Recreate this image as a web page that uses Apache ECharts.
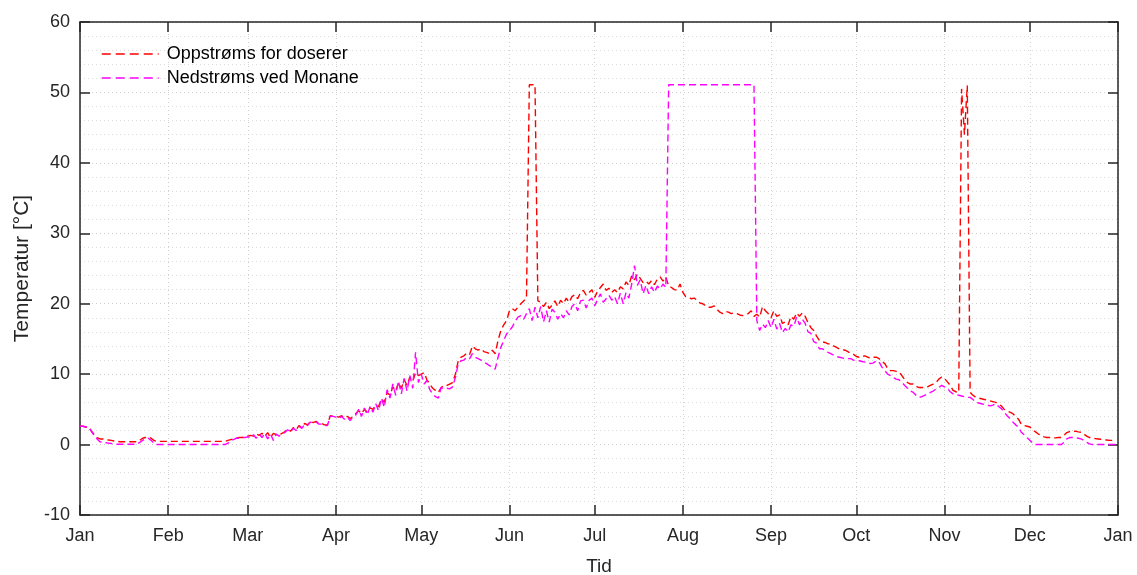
<!DOCTYPE html>
<html><head><meta charset="utf-8">
<script src="https://cdn.jsdelivr.net/npm/echarts@6/dist/echarts.min.js"></script>
<style>html,body{margin:0;padding:0;background:#fff}#c{width:1137px;height:575px}</style>
</head><body><div id="c"></div>
<script>
// Daily values starting 2021-01-01 (index 0), one value per day
const monthLabels = ['Jan','Feb','Mar','Apr','May','Jun','Jul','Aug','Sep','Oct','Nov','Dec'];
const seriesNames = ['Oppstrøms for doserer', 'Nedstrøms ved Monane'];
const yTicks = { min: -10, max: 60, step: 10 };

const upstream = [
  // Jan
  2.6,2.6,2.5,2.5,1.9,1.4,1.0,0.8,0.8,0.7,0.65,0.6,0.5,0.45,0.4,0.4,0.4,0.4,0.4,0.4,0.4,0.6,0.9,1.0,1.1,0.9,0.6,0.45,0.45,0.45,0.45,
  // Feb
  0.45,0.45,0.45,0.45,0.45,0.45,0.45,0.45,0.45,0.45,0.45,0.45,0.45,0.45,0.45,0.45,0.45,0.45,0.45,0.45,0.45,0.6,0.7,0.8,0.9,1.0,1.0,1.1,
  // Mar
  1.2,1.3,1.2,1.5,1.3,1.6,1.2,1.7,1.0,1.6,1.4,1.3,1.6,1.8,2.2,1.9,2.4,2.1,2.7,2.4,3.0,2.8,3.3,3.1,3.3,3.0,3.0,2.8,2.8,4.1,4.0,
  // Apr
  4.0,3.9,4.1,3.8,4.0,3.7,4.0,4.4,4.8,4.4,5.0,4.6,5.2,5.0,5.6,5.4,6.5,6.0,7.4,7.0,8.2,7.6,8.8,8.0,9.2,8.4,9.6,9.0,10.2,9.8,
  // May
  10.0,10.2,9.2,8.6,8.0,7.7,7.4,8.1,8.4,8.4,8.6,8.8,10.0,11.9,12.4,12.6,13.0,12.8,14.0,13.6,13.4,13.6,13.2,13.1,12.9,13.4,12.9,14.8,16.2,17.0,17.6,
  // Jun
  19.0,19.3,19.0,19.5,20.0,20.4,20.8,51.1,51.1,51.1,20.4,20.2,19.6,20.2,19.3,19.8,20.4,19.6,20.5,20.0,20.8,20.2,21.0,21.3,20.7,21.6,21.9,21.2,21.6,22.0,
  // Jul
  20.9,21.8,22.3,22.8,21.9,22.2,21.6,22.0,21.6,22.4,22.1,23.1,22.6,24.0,23.4,24.2,23.6,23.0,23.2,22.8,23.3,22.7,23.5,23.8,23.2,23.8,22.5,22.3,22.0,21.9,22.8,
  // Aug
  21.6,21.0,20.9,20.7,20.8,20.5,20.1,20.0,19.7,19.5,19.5,19.7,19.2,18.8,18.6,18.9,18.8,18.6,18.7,18.6,18.4,18.3,18.5,18.6,19.0,18.2,18.5,18.1,19.6,19.0,18.6,
  // Sep
  18.0,19.0,18.2,18.4,17.2,17.4,17.0,18.2,17.8,18.7,18.2,18.7,18.2,17.3,16.6,16.2,15.4,14.8,14.6,14.5,14.3,14.3,14.0,13.8,13.6,13.5,13.4,13.2,12.9,12.8,
  // Oct
  12.5,12.4,12.5,12.6,12.4,12.3,12.4,12.4,12.2,11.8,11.5,10.8,10.5,10.5,10.4,10.3,9.8,9.2,8.8,8.6,8.6,8.3,8.1,8.1,8.1,8.2,8.4,8.6,8.8,9.3,9.6,
  // Nov
  9.4,8.9,8.4,7.7,7.5,7.4,50.5,44.0,51.0,7.4,7.0,6.7,6.6,6.5,6.4,6.3,6.2,6.1,6.0,5.7,5.5,5.0,4.8,4.6,4.4,4.0,3.6,2.9,2.7,2.6,
  // Dec
  2.5,2.1,1.8,1.5,1.3,1.1,1.0,1.0,0.95,0.95,1.0,1.0,1.3,1.7,1.85,1.9,1.9,1.8,1.75,1.5,1.2,1.0,0.9,0.85,0.8,0.75,0.7,0.65,0.6,0.6,0.6
];

const downstream = [
  // Jan
  2.6,2.6,2.5,2.5,1.9,1.3,0.8,0.4,0.3,0.25,0.2,0.15,0.1,0.05,0.05,0.05,0.05,0.05,0.05,0.05,0.05,0.3,0.6,0.8,0.9,0.6,0.2,0,0,0,0,
  // Feb
  0,0,0,0,0,0,0,0,0,0,0,0,0,0,0,0,0,0,0,0,0,0.2,0.5,0.7,0.9,0.9,1.0,1.0,
  // Mar
  1.1,1.0,1.4,0.9,1.5,1.0,1.6,0.8,1.5,0.6,1.5,1.2,1.5,1.7,2.1,1.8,2.3,2.0,2.6,2.3,2.9,2.7,3.2,3.0,3.2,2.9,2.9,2.7,2.7,4.0,4.0,
  // Apr
  3.9,3.7,4.0,3.6,3.9,3.4,4.0,4.2,5.0,4.0,5.2,4.2,5.4,4.6,5.8,4.8,6.6,5.3,7.8,6.6,8.6,7.0,9.0,7.2,9.4,7.6,9.8,8.0,13.1,8.8,
  // May
  10.0,8.6,9.1,7.8,7.2,6.8,6.6,8.1,7.9,8.0,7.9,8.2,9.5,11.5,11.9,12.0,12.4,12.2,12.9,12.4,12.2,12.0,11.7,11.5,11.2,11.0,10.7,12.4,13.8,14.8,15.7,
  // Jun
  16.2,16.7,17.5,18.1,18.3,17.8,18.6,19.3,17.6,19.5,18.0,19.6,17.4,19.0,17.4,19.2,18.8,17.8,18.6,18.0,19.0,18.4,19.6,20.0,19.0,20.4,20.5,19.4,20.5,20.8,
  // Jul
  19.7,20.6,21.4,20.2,20.7,21.2,20.5,21.0,20.0,21.5,20.0,21.6,20.8,22.8,25.4,22.6,23.4,21.4,22.6,21.4,22.4,21.6,22.5,22.1,22.8,22.3,51.1,51.1,51.1,51.1,51.1,
  // Aug
  51.1,51.1,51.1,51.1,51.1,51.1,51.1,51.1,51.1,51.1,51.1,51.1,51.1,51.1,51.1,51.1,51.1,51.1,51.1,51.1,51.1,51.1,51.1,51.1,51.1,51.1,17.6,16.2,17.1,16.6,17.6,
  // Sep
  16.6,17.8,16.4,17.2,15.9,16.5,16.0,17.0,16.8,18.1,17.0,17.8,17.2,16.0,15.8,14.6,14.4,13.6,13.6,13.4,13.1,12.9,12.7,12.5,12.4,12.3,12.2,12.2,12.2,12.0,
  // Oct
  11.9,11.9,11.8,11.7,11.6,11.5,11.6,11.9,11.7,11.0,10.5,10.0,9.8,9.5,9.3,9.2,8.85,8.4,8.0,7.6,7.4,7.0,6.7,6.8,7.0,7.2,7.4,7.6,7.9,8.1,8.4,
  // Nov
  8.2,8.0,7.5,7.2,7.1,7.0,6.9,6.8,6.7,6.7,6.4,6.0,5.9,5.8,5.7,5.6,5.5,5.6,5.8,5.4,5.1,4.6,4.1,3.7,3.2,2.8,2.5,1.75,1.4,1.0,
  // Dec
  0.6,0.2,0,0,0,0,0,0,0,0,0,0,0.3,0.8,1.0,1.0,0.95,0.9,0.8,0.6,0.3,0.1,0,0,0,0,0,0,0,0,0
];

const t0 = Date.UTC(2021, 0, 1);
const t1 = Date.UTC(2022, 0, 1);
const DAY = 86400000;
const toPairs = vals => vals.map((v, i) => [t0 + i * DAY, v]);

const txt = '#262626';
const font = 'Liberation Sans, Arial, Helvetica, sans-serif';
const majorGrid = { color: '#cdcdcd', type: [1, 3], width: 1 };
const minorGrid = { color: '#dcdcdc', type: [1, 3], width: 1 };
const chart = echarts.init(document.getElementById('c'), null, {renderer: 'canvas'});
chart.setOption({
  animation: false,
  useUTC: true,
  backgroundColor: '#fff',
  textStyle: { fontFamily: font },
  grid: { left: 80, right: 19, top: 22, bottom: 60, containLabel: false, outerBoundsMode: 'none' },
  legend: {
    orient: 'vertical', left: 96, top: 40, itemWidth: 57, itemHeight: 14, itemGap: 6,
    itemStyle: { color: 'rgba(0,0,0,0)', borderWidth: 0, opacity: 0 },
    lineStyle: { type: [9, 5], width: 1.4 },
    textStyle: { fontSize: 18, color: '#000', fontFamily: font, padding: [0, 0, 0, 3] },
    data: seriesNames
  },
  xAxis: [{
    type: 'time', min: t0, max: t1, splitNumber: 12, position: 'bottom',
    name: 'Tid', nameLocation: 'middle', nameGap: 42,
    nameTextStyle: { fontSize: 19, color: txt, fontFamily: font },
    axisLine: { show: true, onZero: false, lineStyle: { color: txt, width: 1.5 } },
    axisTick: { show: true, inside: true, length: 10, lineStyle: { color: txt, width: 1.5 } },
    axisLabel: { fontSize: 18, color: txt, margin: 12, hideOverlap: false, showMaxLabel: true, showMinLabel: true,
      formatter: v => monthLabels[new Date(v).getUTCMonth()] },
    splitLine: { show: true, lineStyle: majorGrid }
  }, {
    type: 'time', min: t0, max: t1, splitNumber: 12, position: 'top',
    axisLine: { show: true, onZero: false, lineStyle: { color: txt, width: 1.5 } },
    axisTick: { show: true, inside: true, length: 10, lineStyle: { color: txt, width: 1.5 } },
    axisLabel: { show: false }, splitLine: { show: false }
  }],
  yAxis: [{
    type: 'value', min: yTicks.min, max: yTicks.max, interval: yTicks.step, position: 'left',
    name: 'Temperatur [°C]', nameLocation: 'middle', nameGap: 47,
    nameTextStyle: { fontSize: 21, color: txt, fontFamily: font },
    axisLine: { show: true, onZero: false, lineStyle: { color: txt, width: 1.5 } },
    axisTick: { show: true, inside: true, length: 10, lineStyle: { color: txt, width: 1.5 } },
    axisLabel: { fontSize: 18, color: txt, margin: 10 },
    splitLine: { show: true, lineStyle: majorGrid },
    minorTick: { show: false, splitNumber: 5 },
    minorSplitLine: { show: true, lineStyle: minorGrid }
  }, {
    type: 'value', min: yTicks.min, max: yTicks.max, interval: yTicks.step, position: 'right',
    axisLine: { show: true, onZero: false, lineStyle: { color: txt, width: 1.5 } },
    axisTick: { show: true, inside: true, length: 10, lineStyle: { color: txt, width: 1.5 } },
    axisLabel: { show: false }, splitLine: { show: false }
  }],
  series: [{
    name: seriesNames[0], type: 'line', xAxisIndex: 0, yAxisIndex: 0,
    showSymbol: false, symbol: 'none',
    lineStyle: { color: '#ff0000', width: 1.4, type: [7, 4] }, itemStyle: { color: '#ff0000' },
    data: toPairs(upstream)
  }, {
    name: seriesNames[1], type: 'line', xAxisIndex: 0, yAxisIndex: 0,
    showSymbol: false, symbol: 'none',
    lineStyle: { color: '#ff00ff', width: 1.4, type: [7, 4] }, itemStyle: { color: '#ff00ff' },
    data: toPairs(downstream)
  }]
});
</script>
</body></html>
